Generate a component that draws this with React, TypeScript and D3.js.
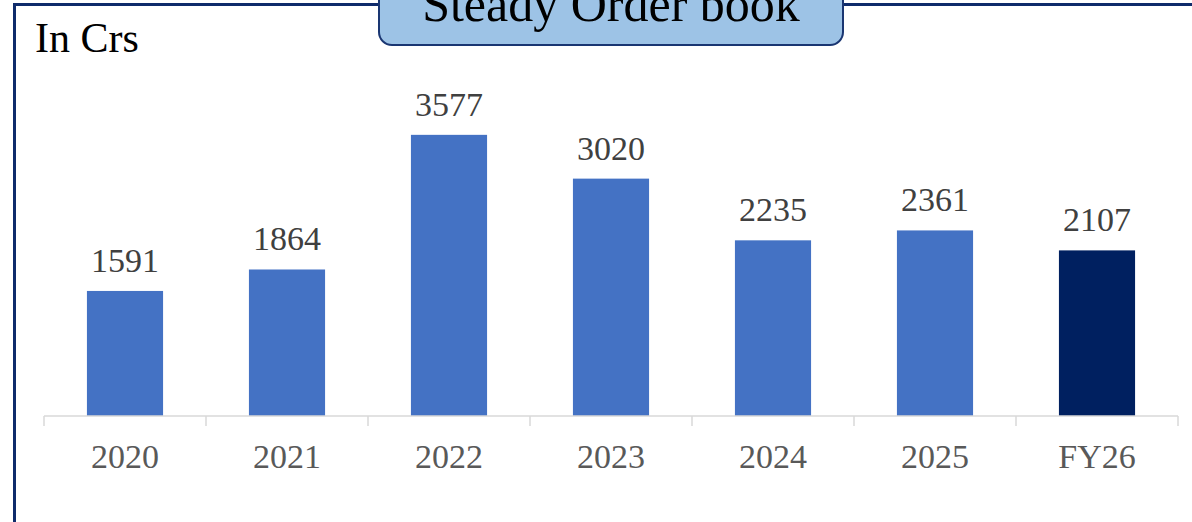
import React from "react";
import * as d3 from "d3";

const categories: string[] = ["2020", "2021", "2022", "2023", "2024", "2025", "FY26"];
const orderBook: number[] = [1591, 1864, 3577, 3020, 2235, 2361, 2107];
const highlight: string[] = ["FY26"];
const title = "Steady Order book";
const unitLabel = "In Crs";

const W = 1192;
const H = 522;

export default function App() {
  const x = d3.scaleBand<string>().domain(categories).range([44, 1178]).paddingInner(0).paddingOuter(0);
  const y = d3.scaleLinear().domain([0, 4000]).range([416, 101.6]);
  const bw = x.bandwidth();
  const barW = bw * 0.47;
  const serif = "'Liberation Serif', 'Times New Roman', serif";
  const ticks = [...categories.map((c) => x(c) as number), 44 + bw * categories.length];

  return (
    <svg width={W} height={H} style={{ position: "absolute", left: 0, top: 0, background: "#fff" }}>
      {/* outer frame */}
      <rect x={14.5} y={4.5} width={W + 20} height={H + 20} fill="none" stroke="#0f2b6b" strokeWidth={3} />

      {/* unit label */}
      <text x={35} y={52} fontFamily={serif} fontSize={42} fill="#000">{unitLabel}</text>

      {/* bars */}
      {categories.map((c, i) => (
        <rect
          key={c}
          x={(x(c) as number) + (bw - barW) / 2}
          y={y(orderBook[i])}
          width={barW}
          height={y(0) - y(orderBook[i])}
          fill={highlight.includes(c) ? "#002060" : "#4472c4"}
        />
      ))}

      {/* value labels */}
      {categories.map((c, i) => (
        <text
          key={c + "v"}
          x={(x(c) as number) + bw / 2}
          y={y(orderBook[i]) - 19}
          textAnchor="middle"
          fontFamily={serif}
          fontSize={34}
          fill="#404040"
        >
          {orderBook[i]}
        </text>
      ))}

      {/* axis */}
      <line x1={44} x2={44 + bw * categories.length} y1={y(0)} y2={y(0)} stroke="#d9d9d9" strokeWidth={1.5} />
      {ticks.map((t, i) => (
        <line key={"t" + i} x1={t} x2={t} y1={y(0)} y2={y(0) + 10} stroke="#d9d9d9" strokeWidth={1.5} />
      ))}
      {categories.map((c) => (
        <text
          key={c + "l"}
          x={(x(c) as number) + bw / 2}
          y={468}
          textAnchor="middle"
          fontFamily={serif}
          fontSize={34}
          fill="#595959"
        >
          {c}
        </text>
      ))}

      {/* title box */}
      <rect x={379} y={-20} width={464} height={65} rx={13} ry={13} fill="#9dc3e6" stroke="#1a3672" strokeWidth={2} />
      <text x={611} y={20.5} textAnchor="middle" fontFamily={serif} fontSize={50} fill="#000">{title}</text>
    </svg>
  );
}
